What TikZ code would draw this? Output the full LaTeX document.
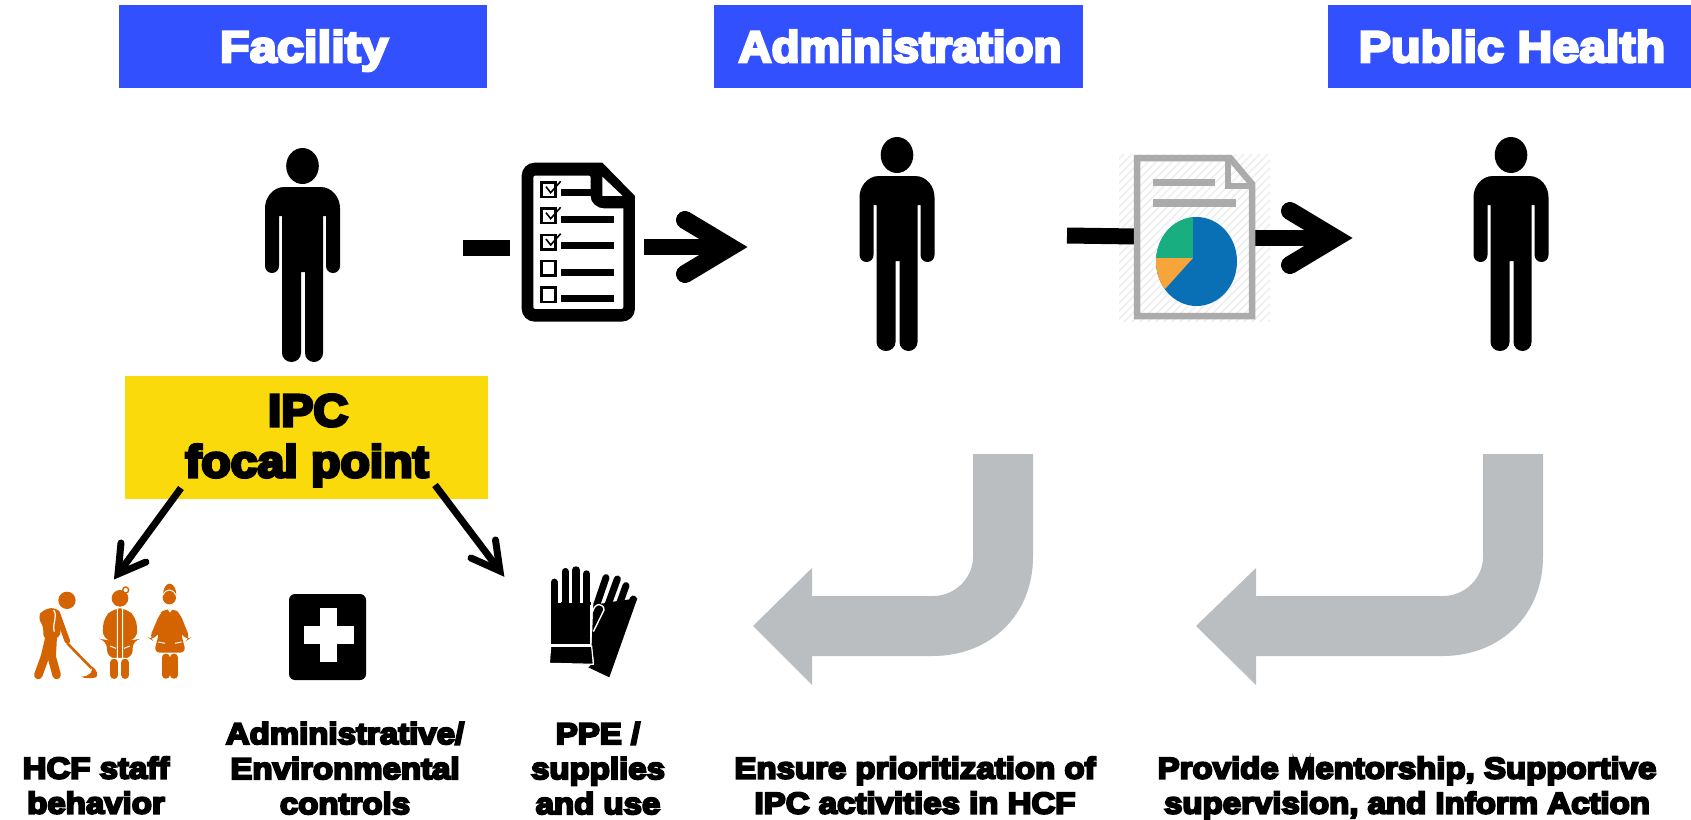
\documentclass[tikz,border=0pt]{standalone}
\usepackage{fontspec}
\newfontfamily\hbh{Liberation Sans Bold}[FakeBold=6,FakeStretch=1.11]
\newfontfamily\hba{Liberation Sans Bold}[FakeBold=6,FakeStretch=1.04]
\newfontfamily\hbp{Liberation Sans Bold}[FakeBold=6,FakeStretch=1.10]
\newfontfamily\hbl{Liberation Sans Bold}[FakeBold=7,FakeStretch=1.10]
\newfontfamily\hbi{Liberation Sans Bold}[FakeBold=7,FakeStretch=1.07]
\definecolor{hdrblue}{HTML}{3350FF}
\definecolor{ipcyellow}{HTML}{FBDA0B}
\definecolor{arrowgray}{HTML}{BABEC1}
\definecolor{docgray}{HTML}{ABABAB}
\definecolor{hatchgray}{HTML}{EFEFEF}
\definecolor{pieblue}{HTML}{0A70B5}
\definecolor{pieorange}{HTML}{F5A53A}
\definecolor{piegreen}{HTML}{19AE7F}
\definecolor{stafforange}{HTML}{D46402}
\tikzset{
  hdrtext/.style={text=white,anchor=base,inner sep=0pt},
  lbl/.style={anchor=base,inner sep=0pt,align=center,font=\hbl\fontsize{30}{35}\selectfont},
  ipctext/.style={anchor=base,inner sep=0pt,font=\hbi\fontsize{45}{45}\selectfont},
  thickline/.style={line width=16pt},
  bigbarb/.style={line width=18pt,line cap=round,line join=miter},
  thinline/.style={line width=7pt},
  thinbarb/.style={line width=7pt,line cap=round,line join=miter},
  grayarrow/.style={fill=arrowgray},
  person/.pic={
    \fill (0,18) ellipse [x radius=16.3,y radius=18];
    \fill (-18,39) -- (18,39) .. controls (30,39) and (37.5,50) .. (37.5,60)
      -- (37.5,118) arc [start angle=0,end angle=180,x radius=7,y radius=7]
      -- (23.5,68) -- (20.5,68) -- (20.5,205) arc [start angle=0,end angle=180,x radius=9,y radius=9]
      -- (2.5,124) -- (-1.5,124) -- (-1.5,205) arc [start angle=0,end angle=180,x radius=9.5,y radius=9]
      -- (-20.5,68) -- (-23.5,68) -- (-23.5,118) arc [start angle=0,end angle=180,x radius=7,y radius=7]
      -- (-37.5,60) .. controls (-37.5,50) and (-30,39) .. (-18,39) -- cycle;
  }
}
\begin{document}
\begin{tikzpicture}[x=1pt,y=-1pt]
\useasboundingbox (0,0) rectangle (1691,819);
% headers
\fill[hdrblue] (119,5) rectangle (487,88);
\fill[hdrblue] (714,5) rectangle (1083,88);
\fill[hdrblue] (1328,5) rectangle (1691,88);
\node[hdrtext,font=\hbh\fontsize{44}{44}\selectfont] (hfac) at (304,62) {Facility};
\node[hdrtext,font=\hba\fontsize{44}{44}\selectfont] (hadm) at (900,62) {Administration};
\node[hdrtext,font=\hbp\fontsize{44}{44}\selectfont] (hpub) at (1512,62) {Public Health};
% persons
\pic at (302.5,148) {person};
\pic at (897,137) {person};
\pic at (1511,137) {person};
% IPC box
\node[fill=ipcyellow,minimum width=363pt,minimum height=123pt,inner sep=0pt,anchor=north west] (ipc) at (125,376) {};
\node[ipctext] (ipc1) at (308,426) {IPC};
\node[ipctext] (ipc2) at (307,477) {focal point};
% report hatch
\begin{scope}
  \clip (1119,154) rectangle (1270,321);
  \foreach \i in {-25,...,25} {
    \draw[hatchgray,line width=1.6pt] (1100+\i*8,330) -- (1100+\i*8+180,150);
  }
\end{scope}
% checklist connector
\coordinate (c1a) at (463,248); \coordinate (c1b) at (510,248);
\coordinate (c2a) at (644,247); \coordinate (c2b) at (730,247);
\draw[thickline] (c1a) -- (c1b);
\draw[thickline] (c2a) -- (c2b);
\draw[bigbarb] (685,220) -- (c2b) -- (685,274);
% checklist icon
\begin{scope}[shift={(440,130)},x=0.3333pt,y=-0.3333pt]
  \fill (487,98) -- (585,198) [rounded corners=13pt] -- (585,575) -- (245,575) -- (245,98) [sharp corners] -- cycle;
  \fill[white,rounded corners=2pt] (280,137) -- (452,137) -- (452,195) [sharp corners] arc [start angle=180,end angle=90,x radius=40,y radius=40] -- (550,235) [rounded corners=2pt] -- (550,537) -- (280,537) -- cycle;
  \fill[white] (487,140) -- (487,198) -- (548,198) -- cycle;
  \foreach \yy in {158,236,315,393,473} {
    \draw[line width=2.6pt] (305,\yy) rectangle (346,\yy+43);
  }
  \foreach \yy in {158,236,315} {
    \draw[line width=1.6pt] (318,\yy+12) -- (332,\yy+30) -- (362,\yy-4);
  }
  \fill (362,178) rectangle (455,198);
  \foreach \yy in {258,337,417,496} { \fill (362,\yy) rectangle (523,\yy+20); }
\end{scope}
% report connector
\coordinate (d1a) at (1067,235.5); \coordinate (d1b) at (1136,236.5);
\coordinate (d2a) at (1255,238); \coordinate (d2b) at (1335,238);
\draw[thickline] (d1a) -- (d1b);
\draw[thickline] (d2a) -- (d2b);
\draw[bigbarb] (1290,211) -- (d2b) -- (1290,265);
% report icon
\draw[docgray,line width=6.5pt,miter limit=4] (1137,158) -- (1230,158) -- (1252,184) -- (1252,316) -- (1137,316) -- cycle;
\draw[docgray,line width=6.5pt] (1228,156) -- (1228,186) -- (1253,186);
\fill[docgray] (1153,179) rectangle (1215,186);
\fill[docgray] (1153,199) rectangle (1236,207);
\begin{scope}
  \clip (1196.5,261.5) ellipse [x radius=40.5,y radius=44.5];
  \fill[pieblue] (1150,210) rectangle (1245,312);
  \fill[pieorange] (1193,258) -- (1150,258) -- (1150,300) -- (1165,289) -- cycle;
  \fill[piegreen] (1193,258) -- (1150,258) -- (1150,210) -- (1193,210) -- cycle;
\end{scope}
% gray bent arrows
\fill[grayarrow] (973,454) -- (1033,454) -- (1033,557) .. controls (1033,615) and (990,656) .. (933,656) -- (812,656) -- (812,685) -- (753,626) -- (812,568) -- (812,596) -- (933,596) .. controls (955,596) and (973,578) .. (973,557) -- cycle;
\fill[grayarrow] (1483,454) -- (1543,454) -- (1543,557) .. controls (1543,615) and (1500,656) .. (1443,656) -- (1256,656) -- (1256,685) -- (1196,626) -- (1256,568) -- (1256,596) -- (1443,596) .. controls (1465,596) and (1483,578) .. (1483,557) -- cycle;
% IPC arrows
\coordinate (l1) at (181,488); \coordinate (l2) at (118,574);
\coordinate (r1) at (435,485); \coordinate (r2) at (500,571);
\draw[thinline] (l1) -- (l2);
\draw[thinline] (r1) -- (r2);
\draw[thinbarb] (121,543) -- (l2) -- (146,562);
\draw[thinbarb] (495.5,540) -- (r2) -- (471,558);
% staff icon
\begin{scope}[shift={(10,560)},x=0.3333pt,y=-0.3333pt]
  % sweeper
  \fill[stafforange] (171,121) circle [radius=26];
  \fill[stafforange,rounded corners=6pt] (82,172) -- (100,148) -- (140,142) -- (155,165) -- (150,235) -- (100,240) -- (100,195) -- cycle;
  \draw[stafforange,line width=8.5pt,line cap=round,line join=round] (118,235) -- (105,290) -- (85,345);
  \draw[stafforange,line width=8.5pt,line cap=round,line join=round] (128,235) -- (125,290) -- (140,345);
  \draw[stafforange,line width=5.5pt,line cap=round] (142,160) -- (172,243);
  \draw[white,line width=1.2pt] (131,150) .. controls (145,170) and (125,190) .. (133,215);
  \draw[stafforange,line width=2.6pt] (172,250) -- (245,325);
  \fill[stafforange] (212,350) .. controls (240,350) and (250,335) .. (245,318) .. controls (262,330) and (265,345) .. (258,352) .. controls (245,356) and (225,356) .. (212,350) -- cycle;
  % doctor
  \fill[stafforange] (330,115) circle [radius=25];
  \draw[stafforange,line width=1.4pt,fill=white] (347,90) circle [radius=9];
  \fill[stafforange,rounded corners=8pt] (310,145) -- (350,145) -- (380,175) -- (382,238) -- (368,240) -- (368,295) -- (292,295) -- (290,240) -- (278,238) -- (280,175) -- cycle;
  \draw[stafforange,line width=8pt,line cap=round] (313,308) -- (313,345);
  \draw[stafforange,line width=8pt,line cap=round] (346,308) -- (346,345);
  \draw[white,line width=1pt] (322,140) -- (322,295) (338,140) -- (338,295) (300,258) -- (318,265) (342,265) -- (360,258) (290,295) -- (368,295);
  % nurse
  \fill[stafforange] (478,113) circle [radius=20];
  \fill[stafforange] (459,105) arc [start angle=180,end angle=0,x radius=20,y radius=-34] -- cycle;
  \draw[white,line width=1pt] (460,105) .. controls (465,85) and (490,85) .. (497,105);
  \fill[stafforange,rounded corners=6pt] (465,147) -- (492,147) -- (510,160) -- (540,235) -- (530,242) -- (512,215) -- (528,278) -- (432,278) -- (448,215) -- (428,242) -- (418,235) -- (450,160) -- cycle;
  \draw[stafforange,line width=7.5pt,line cap=round] (468,292) -- (468,345);
  \draw[stafforange,line width=7.5pt,line cap=round] (492,292) -- (492,345);
  \fill[white] (472,146) -- (488,146) -- (480,158) -- cycle;
  \draw[white,line width=1pt] (445,246) -- (465,250) (495,250) -- (515,246);
\end{scope}
% first aid icon
\fill[rounded corners=6pt] (289,594) rectangle (366,680);
\fill[white] (304,626) rectangle (354,644);
\fill[white] (320,608) rectangle (337,662);
% gloves
\begin{scope}[shift={(530,555)},x=0.3333pt,y=-0.3333pt]
  \draw[line width=7pt,line cap=round] (200,150) -- (228,68);
  \draw[line width=7pt,line cap=round] (232,155) -- (262,72);
  \draw[line width=7pt,line cap=round] (258,175) -- (288,92);
  \draw[line width=7pt,line cap=round] (282,190) -- (310,132);
  \fill (190,150) -- (250,140) -- (322,130) -- (238,367) -- (175,337) -- (192,322) -- (185,270) -- cycle;
  \draw[white,line width=1.4pt] (190,230) -- (222,165) .. controls (222,145) and (195,140) .. (188,170);
  \draw[line width=7.5pt,line cap=round] (73,82) -- (73,150);
  \draw[line width=7.5pt,line cap=round] (106,50) -- (106,150);
  \draw[line width=7.5pt,line cap=round] (138,45) -- (138,150);
  \draw[line width=7.5pt,line cap=round] (170,57) -- (170,150);
  \fill[draw=white,line width=1.2pt] (62,142) -- (182,142) -- (182,268) -- (62,268) -- cycle;
  \fill (62,142) -- (85,142) -- (85,150) -- (62,150) -- cycle;
  \fill (94,142) rectangle (118,150);
  \fill (126,142) rectangle (150,150);
  \fill (158,142) rectangle (182,150);
  \fill[draw=white,line width=1.2pt] (62,274) -- (185,274) -- (190,328) -- (58,325) -- cycle;
\end{scope}
% labels
\node[lbl] (t1) at (96,813.5) {HCF staff\\behavior};
\node[lbl] (t2) at (345,814) {Administrative/\\Environmental\\controls};
\node[lbl] (t3) at (598,814) {PPE /\\supplies\\and use};
\node[lbl] (t4) at (915,813.5) {Ensure prioritization of\\IPC activities in HCF};
\node[lbl] (t5) at (1407,813.5) {Provide Mentorship, Supportive\\supervision, and Inform Action};
\end{tikzpicture}
\end{document}
